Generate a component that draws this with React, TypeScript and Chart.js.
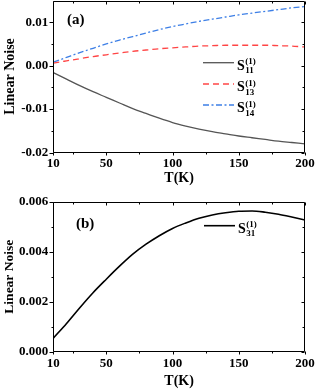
import React, { useEffect, useRef } from "react";
import { Chart, registerables } from "chart.js";

Chart.register(...registerables);

// ---------- data ----------
const temperatures = [10, 20, 30, 40, 50, 60, 70, 80, 90, 100, 110, 120, 130, 140, 150, 160, 170, 180, 190, 200];
const s11 = [-0.0016, -0.0031, -0.0046, -0.006, -0.0073, -0.0086, -0.0099, -0.011, -0.0121, -0.0131, -0.0139, -0.0146, -0.0152, -0.0157, -0.0162, -0.0166, -0.017, -0.0174, -0.0177, -0.018];
const s13 = [0.0006, 0.0011, 0.0016, 0.0021, 0.0025, 0.0029, 0.0033, 0.0036, 0.0039, 0.0041, 0.0043, 0.0045, 0.0046, 0.0047, 0.0047, 0.0047, 0.0047, 0.0046, 0.0045, 0.0043];
const s14 = [0.0008, 0.0019, 0.003, 0.004, 0.005, 0.0059, 0.0067, 0.0075, 0.0083, 0.009, 0.0096, 0.0102, 0.0107, 0.0112, 0.0117, 0.0121, 0.0125, 0.0129, 0.0133, 0.0136];
const s31 = [0.00054, 0.00113, 0.00176, 0.00236, 0.0029, 0.00342, 0.0039, 0.0043, 0.00464, 0.00493, 0.00515, 0.00534, 0.00547, 0.00556, 0.00562, 0.00563, 0.00558, 0.0055, 0.00539, 0.00527];

const xMajorTicks = [10, 50, 100, 150, 200];
const xMinorTicks = [25, 75, 125, 175];
const yMajorTicksA = [-0.02, -0.01, 0, 0.01];
const yMinorTicksA = [-0.015, -0.005, 0.005];
const yMajorTicksB = [0, 0.002, 0.004, 0.006];
const yMinorTicksB = [0.001, 0.003, 0.005];

const legendA = [
  { sub: "11", color: "#555555", dash: [] as number[] },
  { sub: "13", color: "#ff4545", dash: [6, 4] },
  { sub: "14", color: "#3d7fe6", dash: [6, 2.5, 2, 2.5] },
];
const legendB = [{ sub: "31", color: "#000000", dash: [] as number[] }];

const FONT = '"Liberation Serif", "Times New Roman", serif';

type PanelCfg = {
  yMin: number;
  yMax: number;
  yMajor: number[];
  yMinor: number[];
  decimals: number;
  padTop: number;
  xHeight: number;
  tickPad: number;
  titlePadBottom: number;
  yTitleSize: number;
  panelLabel: string;
  panelX: number;
  panelY: number;
  legendX: number;
  legendYs: number[];
  legend: { sub: string; color: string; dash: number[] }[];
  legendWidth: number;
  datasets: { data: number[]; color: string; dash: number[]; width: number }[];
};

function makeFramePlugin(cfg: PanelCfg) {
  return {
    id: "frameAndLegend",
    afterDatasetsDraw(chart: any) {
      const { ctx, chartArea: a, scales } = chart;
      const xs = scales.x;
      const ys = scales.y;
      ctx.save();
      ctx.strokeStyle = "#000";
      ctx.lineWidth = 1;
      ctx.setLineDash([]);
      const L = Math.round(a.left) + 0.5;
      const R = Math.round(a.right) - 0.5;
      const T = Math.round(a.top) + 0.5;
      const B = Math.round(a.bottom) - 0.5;
      ctx.beginPath();
      ctx.rect(L, T, R - L, B - T);
      ctx.stroke();
      const seg = (x1: number, y1: number, x2: number, y2: number) => {
        ctx.beginPath();
        ctx.moveTo(x1, y1);
        ctx.lineTo(x2, y2);
        ctx.stroke();
      };
      for (const v of xMajorTicks) {
        const p = Math.round(xs.getPixelForValue(v)) + 0.5;
        seg(p, B, p, B + 3);
        seg(p, T, p, T + 3);
      }
      for (const v of xMinorTicks) {
        const p = Math.round(xs.getPixelForValue(v)) + 0.5;
        seg(p, B, p, B + 2);
        seg(p, T, p, T + 2);
      }
      for (const v of cfg.yMajor) {
        const p = Math.round(ys.getPixelForValue(v)) + 0.5;
        seg(L - 4, p, L, p);
        seg(R, p, R - 3, p);
      }
      for (const v of cfg.yMinor) {
        const p = Math.round(ys.getPixelForValue(v)) + 0.5;
        seg(L - 2, p, L, p);
        seg(R, p, R - 2, p);
      }

      // panel label
      ctx.fillStyle = "#000";
      ctx.font = `bold 15px ${FONT}`;
      ctx.textBaseline = "alphabetic";
      ctx.textAlign = "left";
      ctx.fillText(cfg.panelLabel, cfg.panelX, cfg.panelY);

      // legend
      cfg.legend.forEach((item, i) => {
        const y = cfg.legendYs[i];
        const x = cfg.legendX;
        ctx.save();
        ctx.strokeStyle = item.color;
        ctx.lineWidth = cfg.legendWidth;
        ctx.setLineDash(item.dash);
        seg(x, y, x + 31, y);
        ctx.restore();
        ctx.fillStyle = "#000";
        ctx.font = `bold 14px ${FONT}`;
        ctx.fillText("S", x + 34, y + 7);
        const sw = ctx.measureText("S").width;
        ctx.font = `bold 9px ${FONT}`;
        ctx.fillText("(1)", x + 34 + sw + 0.5, y + 1.5);
        ctx.fillText(item.sub, x + 34 + sw + 0.5, y + 10.5);
      });
      ctx.restore();
    },
  };
}

function Panel({ cfg }: { cfg: PanelCfg }) {
  const ref = useRef<HTMLCanvasElement | null>(null);
  useEffect(() => {
    if (!ref.current) return;
    const chart = new Chart(ref.current, {
      type: "line",
      data: {
        datasets: cfg.datasets.map((d) => ({
          data: temperatures.map((t, i) => ({ x: t, y: d.data[i] })),
          borderColor: d.color,
          borderWidth: d.width,
          borderDash: d.dash,
          pointRadius: 0,
          fill: false,
          cubicInterpolationMode: "monotone" as const,
        })),
      },
      options: {
        animation: false,
        responsive: false,
        devicePixelRatio: 1,
        layout: { padding: { top: cfg.padTop, right: 12, left: 0, bottom: 0 } },
        plugins: { legend: { display: false }, tooltip: { enabled: false } },
        scales: {
          x: {
            type: "linear",
            min: 10,
            max: 200,
            grid: { display: false, drawTicks: false },
            border: { display: false },
            afterBuildTicks: (s: any) => {
              s.ticks = xMajorTicks.map((v) => ({ value: v }));
            },
            afterFit: (s: any) => {
              s.height = cfg.xHeight;
              s.paddingLeft = 0;
              s.paddingRight = 0;
            },
            ticks: {
              padding: cfg.tickPad,
              color: "#000",
              maxRotation: 0,
              autoSkip: false,
              font: { family: FONT, size: 13, weight: "bold" },
              callback: (v: any) => String(v),
            },
            title: {
              display: true,
              text: "T(K)",
              color: "#000",
              padding: { top: 0, bottom: cfg.titlePadBottom },
              font: { family: FONT, size: 14, weight: "bold" },
            },
          },
          y: {
            type: "linear",
            min: cfg.yMin,
            max: cfg.yMax,
            grid: { display: false, drawTicks: false },
            border: { display: false },
            afterBuildTicks: (s: any) => {
              s.ticks = cfg.yMajor.map((v) => ({ value: v }));
            },
            afterFit: (s: any) => {
              s.width = 53.3;
              s.paddingTop = 0;
              s.paddingBottom = 0;
            },
            ticks: {
              padding: 5,
              color: "#000",
              autoSkip: false,
              font: { family: FONT, size: 13, weight: "bold" },
              callback: (v: any) => Number(v).toFixed(cfg.decimals),
            },
            title: {
              display: true,
              text: "Linear Noise",
              color: "#000",
              padding: { top: 1.5, bottom: 0 },
              font: { family: FONT, size: cfg.yTitleSize, weight: "bold" },
            },
          },
        },
      },
      plugins: [makeFramePlugin(cfg)],
    } as any);
    return () => chart.destroy();
  }, [cfg]);
  return <canvas ref={ref} width={317} height={195} style={{ display: "block", width: 317, height: 195 }} />;
}

const cfgA: PanelCfg = {
  yMin: -0.02,
  yMax: 0.015,
  yMajor: yMajorTicksA,
  yMinor: yMinorTicksA,
  decimals: 2,
  padTop: 0.5,
  xHeight: 42.5,
  tickPad: 3,
  titlePadBottom: 8.3,
  yTitleSize: 14,
  panelLabel: "(a)",
  panelX: 67,
  panelY: 24,
  legendX: 203,
  legendYs: [62.7, 84, 105],
  legend: legendA,
  legendWidth: 1.3,
  datasets: [
    { data: s11, color: "#555555", dash: [], width: 1.3 },
    { data: s13, color: "#ff4545", dash: [6, 4], width: 1.3 },
    { data: s14, color: "#3d7fe6", dash: [6, 2.5, 2, 2.5], width: 1.3 },
  ],
};

const cfgB: PanelCfg = {
  yMin: 0,
  yMax: 0.006,
  yMajor: yMajorTicksB,
  yMinor: yMinorTicksB,
  decimals: 3,
  padTop: 6.7,
  xHeight: 38.3,
  tickPad: 4.5,
  titlePadBottom: 0.1,
  yTitleSize: 13.5,
  panelLabel: "(b)",
  panelX: 76,
  panelY: 33.3,
  legendX: 204,
  legendYs: [30.7],
  legend: legendB,
  legendWidth: 1.6,
  datasets: [{ data: s31, color: "#000000", dash: [], width: 1.6 }],
};

export default function App() {
  return (
    <div style={{ position: "absolute", left: 0, top: 0, width: 317, height: 390, background: "#fff" }}>
      <Panel cfg={cfgA} />
      <Panel cfg={cfgB} />
    </div>
  );
}
